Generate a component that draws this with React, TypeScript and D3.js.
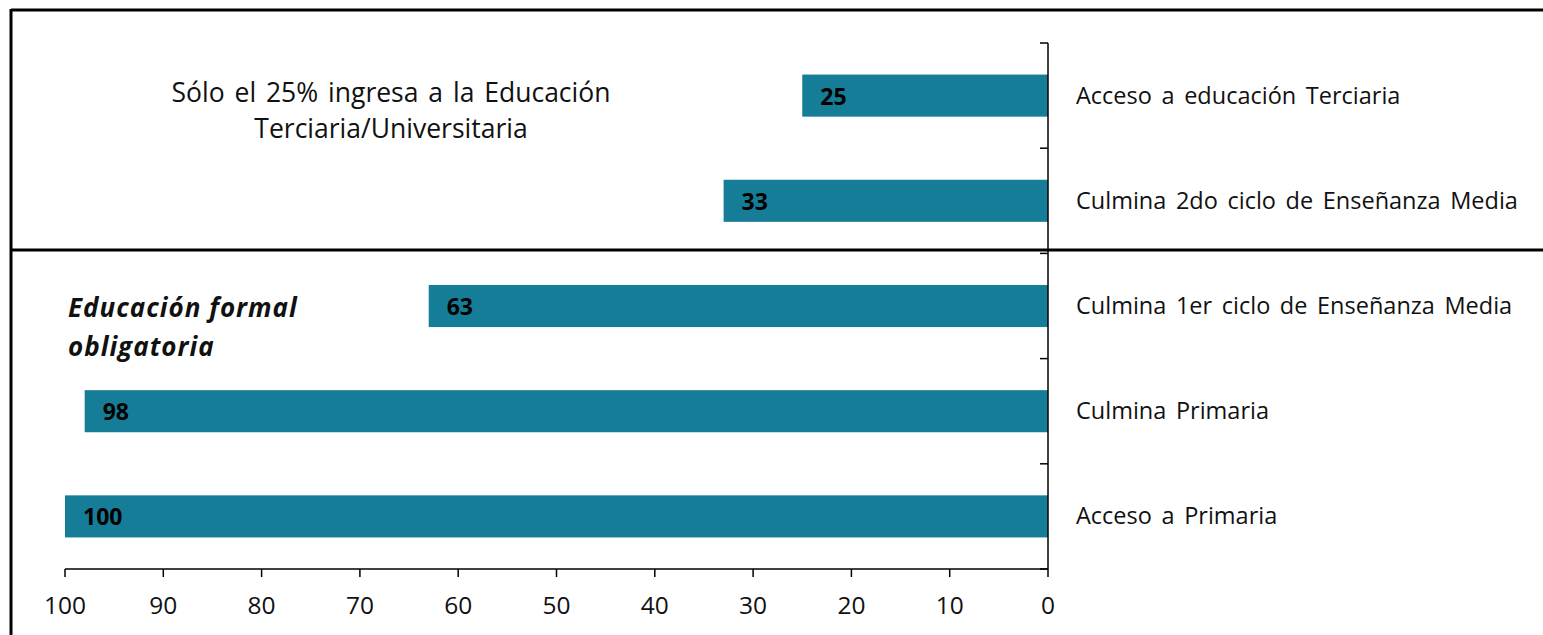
import React from "react";
import * as d3 from "d3";

const categories = [
  "Acceso a educación Terciaria",
  "Culmina 2do ciclo de Enseñanza Media",
  "Culmina 1er ciclo de Enseñanza Media",
  "Culmina Primaria",
  "Acceso a Primaria",
];
const values = [25, 33, 63, 98, 100];
const xTicks = [100, 90, 80, 70, 60, 50, 40, 30, 20, 10, 0];
const noteTop = ["Sólo el 25% ingresa a la Educación", "Terciaria/Universitaria"];
const noteBottom = ["Educación formal", "obligatoria"];

const W = 1543;
const H = 635;
const BAR = "#167d98";
const FONT = "'Open Sans', sans-serif";

export default function App() {
  const x = d3.scaleLinear().domain([100, 0]).range([65, 1048]);
  const y = d3.scaleBand().domain(categories).range([43, 569]).paddingInner(0.6).paddingOuter(0.3);
  const band = d3.scaleBand().domain(categories).range([43, 569]);
  const bandEdges = categories.map((c) => band(c)!).concat([569]);

  return (
    <svg width={W} height={H} style={{ position: "absolute", left: 0, top: 0, background: "#fff" }}>
      {/* frame */}
      <line x1={11} x2={W} y1={10} y2={10} stroke="#000" strokeWidth={3} />
      <line x1={11} x2={11} y1={9} y2={H} stroke="#000" strokeWidth={3} />
      <line x1={11} x2={W} y1={250} y2={250} stroke="#000" strokeWidth={3} />

      {/* bars */}
      {categories.map((c, i) => (
        <g key={c}>
          <rect x={x(values[i])} y={y(c)} width={x(0) - x(values[i])} height={y.bandwidth()} fill={BAR} />
          <text x={x(values[i]) + 18} y={y(c)! + y.bandwidth() / 2 + 9} fontFamily={FONT} fontWeight="bold" fontSize={23} fill="#000">
            {values[i]}
          </text>
          <text x={1076} y={band(c)! + band.bandwidth() / 2 + 8} fontFamily={FONT} fontSize={23.5} wordSpacing={3.5} fill="#111">
            {c}
          </text>
        </g>
      ))}

      {/* vertical axis */}
      <line x1={x(0)} x2={x(0)} y1={43} y2={569} stroke="#000" strokeWidth={1.5} />
      {bandEdges.map((e, i) => (
        <line key={i} x1={x(0) - 8} x2={x(0)} y1={e} y2={e} stroke="#000" strokeWidth={1.5} />
      ))}

      {/* horizontal axis */}
      <line x1={x(100)} x2={x(0)} y1={569} y2={569} stroke="#000" strokeWidth={1.5} />
      {xTicks.map((t) => (
        <g key={t}>
          <line x1={x(t)} x2={x(t)} y1={569} y2={577} stroke="#000" strokeWidth={1.5} />
          <text x={x(t)} y={614} textAnchor="middle" fontFamily={FONT} fontSize={24.5} fill="#111">
            {t}
          </text>
        </g>
      ))}

      {/* notes */}
      {noteTop.map((s, i) => (
        <text key={s} x={391} y={102 + i * 36} textAnchor="middle" fontFamily={FONT} fontSize={26.5} wordSpacing={3} fill="#111">
          {s}
        </text>
      ))}
      {noteBottom.map((s, i) => (
        <text key={s} x={68} y={317 + i * 39} fontFamily={FONT} fontStyle="italic" fontWeight="bold" fontSize={26} letterSpacing={1} fill="#111">
          {s}
        </text>
      ))}
    </svg>
  );
}
